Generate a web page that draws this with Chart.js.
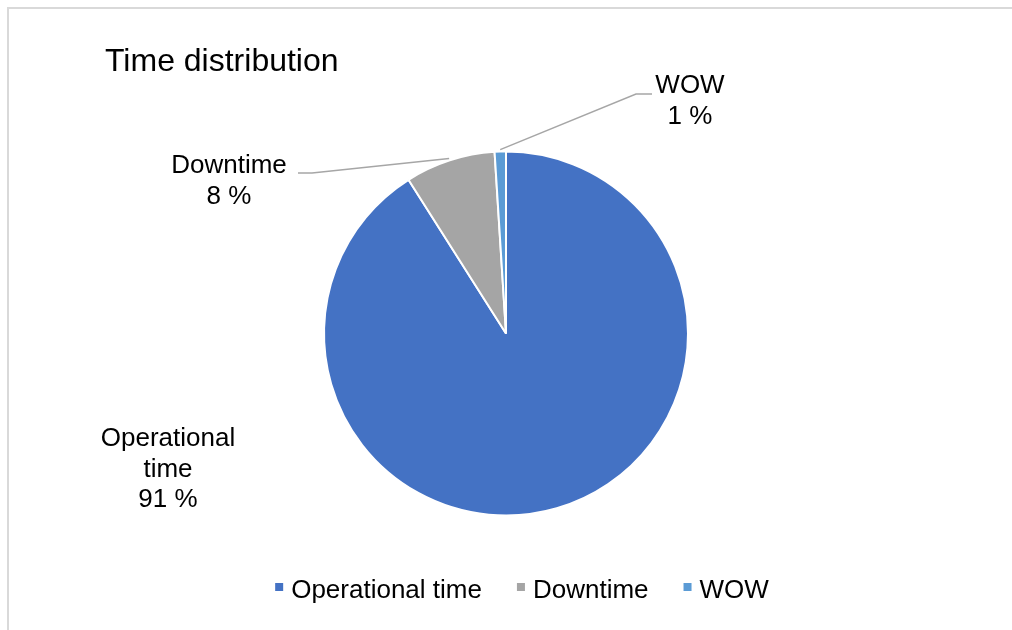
<!DOCTYPE html>
<html>
<head>
<meta charset="utf-8">
<title>Time distribution</title>
<script src="https://cdn.jsdelivr.net/npm/chart.js@4.4.1/dist/chart.umd.min.js"></script>
<style>
  html, body { margin: 0; padding: 0; background: #fff; overflow: hidden; }
  #wrap { position: relative; width: 1012px; height: 630px; overflow: hidden; }
  #frame { position: absolute; left: 7px; top: 7px; width: 1100px; height: 700px; border: 2px solid #d9d9d9; box-sizing: border-box; }
  #pie { position: absolute; left: 0; top: 0; }
</style>
</head>
<body>
<div id="wrap">
  <div id="frame"></div>
  <canvas id="pie" width="1012" height="630"></canvas>
</div>
<script>
const chartTitle = 'Time distribution';
const categories = ['Operational time', 'Downtime', 'WOW'];
const shares = [91, 8, 1];
const sliceColors = ['#4472c4', '#a5a5a5', '#5b9bd5'];

const FONT = '"Liberation Sans", Arial, Helvetica, sans-serif';

// split a label into lines no wider than maxW
function wrap(ctx, text, maxW) {
  const words = text.split(' ');
  const lines = [];
  let cur = '';
  words.forEach(w => {
    const test = cur ? cur + ' ' + w : w;
    if (cur && ctx.measureText(test).width > maxW) { lines.push(cur); cur = w; }
    else cur = test;
  });
  if (cur) lines.push(cur);
  return lines;
}

// data labels with leader lines, placed relative to the pie centre
const sliceLabels = {
  id: 'sliceLabels',
  afterDatasetsDraw(chart, args, opts) {
    const ctx = chart.ctx;
    const meta = chart.getDatasetMeta(0);
    const values = chart.data.datasets[0].data;
    const total = values.reduce((s, v) => s + v, 0);
    ctx.save();
    ctx.font = `${opts.size}px ${FONT}`;
    ctx.fillStyle = opts.color;
    ctx.textAlign = 'center';
    ctx.textBaseline = 'alphabetic';
    meta.data.forEach((arc, i) => {
      const spot = opts.spots[i];
      const { x, y, startAngle, endAngle, outerRadius } = arc.getProps(['x', 'y', 'startAngle', 'endAngle', 'outerRadius'], true);
      if (spot.leader) {
        const mid = (startAngle + endAngle) / 2;
        const r = outerRadius + 2;
        ctx.beginPath();
        ctx.moveTo(x + spot.leader[0][0], y + spot.leader[0][1]);
        ctx.lineTo(x + spot.leader[1][0], y + spot.leader[1][1]);
        ctx.lineTo(x + Math.cos(mid) * r, y + Math.sin(mid) * r);
        ctx.strokeStyle = opts.leaderColor;
        ctx.lineWidth = 1.5;
        ctx.stroke();
      }
      const lines = wrap(ctx, chart.data.labels[i], opts.maxWidth);
      lines.push(`${Math.round(values[i] / total * 100)} %`);
      lines.forEach((ln, k) => ctx.fillText(ln, x + spot.at[0], y + spot.at[1] + k * opts.lineHeight));
    });
    ctx.restore();
  }
};

// title and bottom legend
const frameText = {
  id: 'frameText',
  afterDraw(chart, args, opts) {
    const ctx = chart.ctx;
    ctx.save();
    ctx.fillStyle = '#000';
    ctx.textBaseline = 'alphabetic';
    ctx.textAlign = 'left';
    ctx.font = `32px ${FONT}`;
    ctx.fillText(chartTitle, opts.titleX, opts.titleY);

    ctx.font = `26px ${FONT}`;
    const colors = chart.data.datasets[0].backgroundColor;
    const widths = chart.data.labels.map(l => ctx.measureText(l).width);
    const box = 8, gap = 8, itemGap = 35;
    const full = widths.reduce((s, w) => s + box + gap + w, 0) + itemGap * (widths.length - 1);
    let lx = opts.legendCenter - full / 2;
    chart.data.labels.forEach((l, i) => {
      ctx.fillStyle = colors[i];
      ctx.fillRect(lx, opts.legendY - 15, box, box);
      ctx.fillStyle = '#000';
      ctx.fillText(l, lx + box + gap, opts.legendY);
      lx += box + gap + widths[i] + itemGap;
    });
    ctx.restore();
  }
};

new Chart(document.getElementById('pie'), {
  type: 'pie',
  data: {
    labels: categories,
    datasets: [{ data: shares, backgroundColor: sliceColors, borderColor: '#fff', borderWidth: 2 }]
  },
  options: {
    responsive: false,
    animation: false,
    radius: 182,
    layout: { padding: { left: 0, right: 0, top: 60, bottom: 23 } },
    plugins: {
      legend: { display: false },
      tooltip: { enabled: false },
      title: { display: false },
      sliceLabels: {
        size: 26,
        lineHeight: 30.5,
        maxWidth: 150,
        color: '#000',
        leaderColor: '#a6a6a6',
        spots: [
          { at: [-338, 112.5] },
          { at: [-277, -160.5], leader: [[-208, -160.5], [-194, -160.5]] },
          { at: [184, -240.5], leader: [[146, -239.5], [130, -239.5]] }
        ]
      },
      frameText: { titleX: 105, titleY: 71, legendCenter: 522, legendY: 598 }
    }
  },
  plugins: [sliceLabels, frameText]
});
</script>
</body>
</html>
